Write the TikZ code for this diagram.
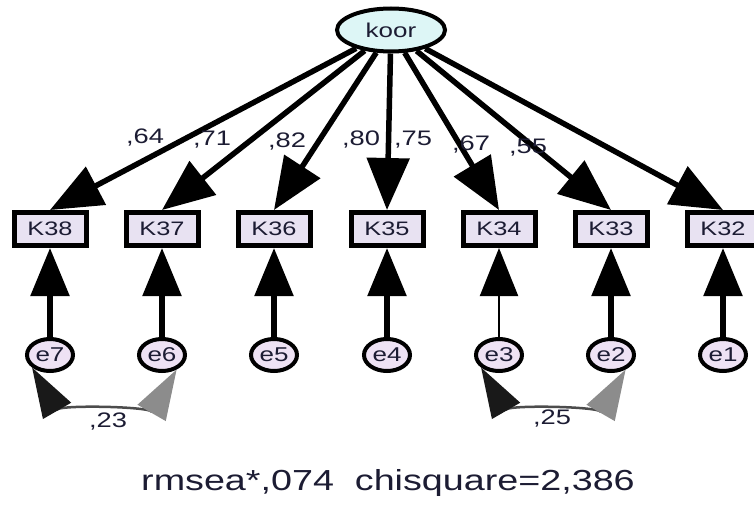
\documentclass[tikz,border=0pt]{standalone}
\usepackage{fontspec}
\setmainfont{Liberation Sans}
\usetikzlibrary{arrows.meta,shapes.geometric}
\definecolor{koorfill}{HTML}{DDF6F6}
\definecolor{boxfill}{HTML}{E8E2F2}
\definecolor{efill}{HTML}{EEE2F4}
\definecolor{txtc}{HTML}{1C1C33}
\newcommand\sx[1]{\scalebox{1.3}[1]{#1}}
\begin{document}
\begin{tikzpicture}[x=1pt,y=1pt,
  lat/.style={ellipse, draw, line width=4pt, fill=koorfill, minimum width=108pt, minimum height=43pt, inner sep=0pt, font=\fontsize{20}{22}\selectfont, text=txtc},
  obs/.style={rectangle, draw, line width=5pt, fill=boxfill, minimum width=72pt, minimum height=33pt, inner sep=0pt, font=\fontsize{19.5}{22}\selectfont, text=txtc},
  err/.style={ellipse, draw, line width=4pt, fill=efill, minimum width=46pt, minimum height=32pt, inner sep=0pt, font=\fontsize{20}{22}\selectfont, text=txtc},
  lbl/.style={font=\fontsize{21}{24}\selectfont, text=txtc, inner sep=0pt},
  loadpath/.style={line width=5.5pt, -{Triangle[length=52pt,width=42pt]}},
  epath/.style={line width=5.5pt, -{Triangle[length=48pt,width=38pt]}},
  cov/.style={line width=2.5pt, draw=black!70, looseness=0.75, {Triangle[length=50pt,width=32pt,color=black!90]}-{Triangle[length=50pt,width=32pt,color=black!45]}},
]
\useasboundingbox (0,0) rectangle (754,-505);
\node[lat] (koor) at (391,-30) {\sx{koor}};
\foreach \n/\x in {38/50,37/162,36/274,35/387,34/499,33/611,32/723}{
  \node[obs] (K\n) at (\x,-229) {\sx{K\n}};
}
\foreach \n/\x in {7/50,6/162,5/274,4/387,3/499,2/611,1/723}{
  \node[err] (e\n) at (\x,-355) {\sx{e\n}};
}
\foreach \n in {38,37,36,35,34,33,32}{
  \draw[loadpath] (koor) -- (K\n.north);
}
\draw[epath] (e7) -- (K38);
\draw[epath] (e6) -- (K37);
\draw[epath] (e5) -- (K36);
\draw[epath] (e4) -- (K35);
\draw[epath, line width=2pt] (e3) -- (K34);
\draw[epath] (e2) -- (K33);
\draw[epath] (e1) -- (K32);
\draw[cov] (e7.-145) to[out=-60,in=-120] (e6.-45);
\draw[cov] (e3.-145) to[out=-60,in=-120] (e2.-45);
\node[lbl] (l64) at (145,-138) {\sx{,64}};
\node[lbl] (l71) at (212,-140) {\sx{,71}};
\node[lbl] (l82) at (287,-142) {\sx{,82}};
\node[lbl] (l80) at (361,-140) {\sx{,80}};
\node[lbl] (l75) at (413,-140) {\sx{,75}};
\node[lbl] (l67) at (471,-145) {\sx{,67}};
\node[lbl] (l55) at (528,-148) {\sx{,55}};
\node[lbl] (l23) at (108,-422) {\sx{,23}};
\node[lbl] (l25) at (552,-419) {\sx{,25}};
\node[font=\fontsize{29}{32}\selectfont, text=txtc, inner sep=0pt] (fit) at (388,-483) {\sx{rmsea*,074\ \ chisquare=2,386}};
\end{tikzpicture}
\end{document}
